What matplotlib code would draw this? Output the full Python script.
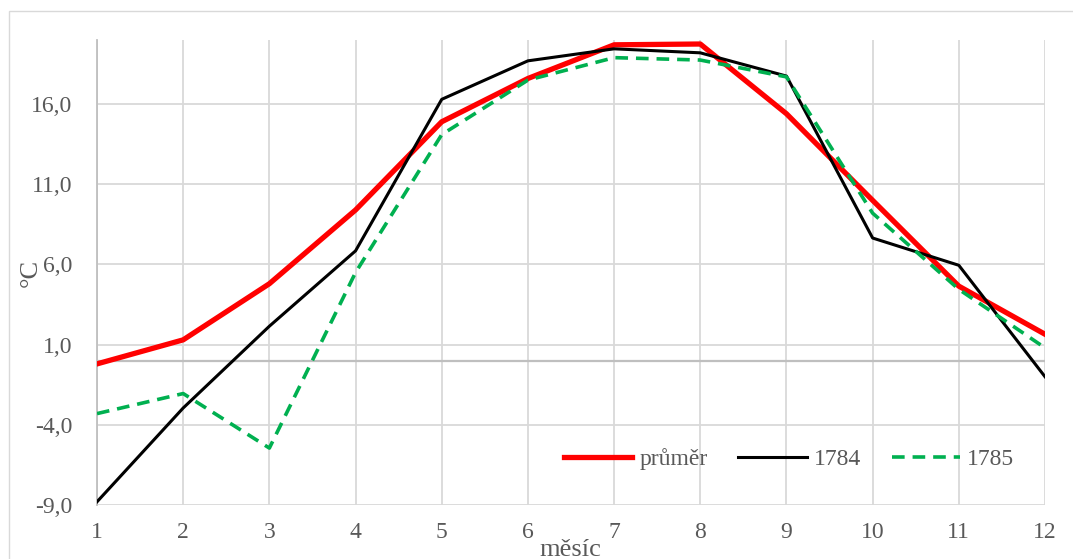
import numpy as np
import matplotlib.pyplot as plt
from matplotlib.patches import Rectangle
from matplotlib.ticker import FuncFormatter

# měsíce a teploty (°C)
mesice = np.arange(1, 13)
prumer = [-0.2, 1.3, 4.8, 9.4, 14.9, 17.6, 19.7, 19.75, 15.4, 10.0, 4.65, 1.65]
rok_1784 = [-8.8, -2.95, 2.15, 6.85, 16.3, 18.7, 19.45, 19.2, 17.75, 7.65, 5.95, -1.0]
rok_1785 = [-3.3, -2.05, -5.45, 5.5, 14.1, 17.5, 18.9, 18.75, 17.7, 9.2, 4.45, 0.8]

yticks = [-9, -4, 1, 6, 11, 16]

plt.rcParams["font.family"] = ["Liberation Serif", "DejaVu Serif"]
txt = "#595959"

fig = plt.figure(figsize=(10.73, 5.59), dpi=100)
ax = fig.add_axes([97 / 1073, 1 - 505 / 559, 948 / 1073, 465 / 559])

# rámeček grafu
fig.patches.append(Rectangle((9 / 1073, -0.1), 1.1, 1 - 11 / 559 + 0.1,
                             transform=fig.transFigure, fill=False,
                             edgecolor="#d9d9d9", lw=1.0))

ax.set_xlim(1, 12)
ax.set_ylim(-9, 20)
ax.set_xticks(mesice)
ax.set_yticks(yticks)
ax.yaxis.set_major_formatter(FuncFormatter(lambda v, p: f"{v:.1f}".replace(".", ",")))
ax.grid(True, color="#d9d9d9", lw=1.3)
ax.set_axisbelow(True)
ax.axhline(0, color="#bfbfbf", lw=1.6, zorder=1)
for s in ["top", "right", "bottom"]:
    ax.spines[s].set_visible(False)
ax.spines["left"].set_color("#bfbfbf")
ax.spines["left"].set_linewidth(1.3)
ax.tick_params(length=0, labelsize=17, colors=txt)
ax.tick_params(axis="y", pad=18)
ax.tick_params(axis="x", pad=12)

ax.plot(mesice, prumer, color="#ff0000", lw=3.8, label="průměr", zorder=3)
ax.plot(mesice, rok_1784, color="#000000", lw=2.2, label="1784", zorder=4)
ax.plot(mesice, rok_1785, color="#00b050", lw=2.6, ls=(0, (3.5, 2.2)),
        label="1785", zorder=5)

ax.set_ylabel("°C", fontsize=19, color=txt)
ax.yaxis.set_label_coords(-0.058, 0.5)
fig.text(570 / 1073, 1 - 556 / 559, "měsíc", fontsize=19, color=txt,
         ha="center", va="baseline")

ax.legend(loc="lower right", bbox_to_anchor=(0.99, 0.03), ncol=3, frameon=False,
          fontsize=17, labelcolor=txt, handlelength=2.9, handletextpad=0.3,
          columnspacing=1.3)

fig.savefig("out.png", dpi=100)
